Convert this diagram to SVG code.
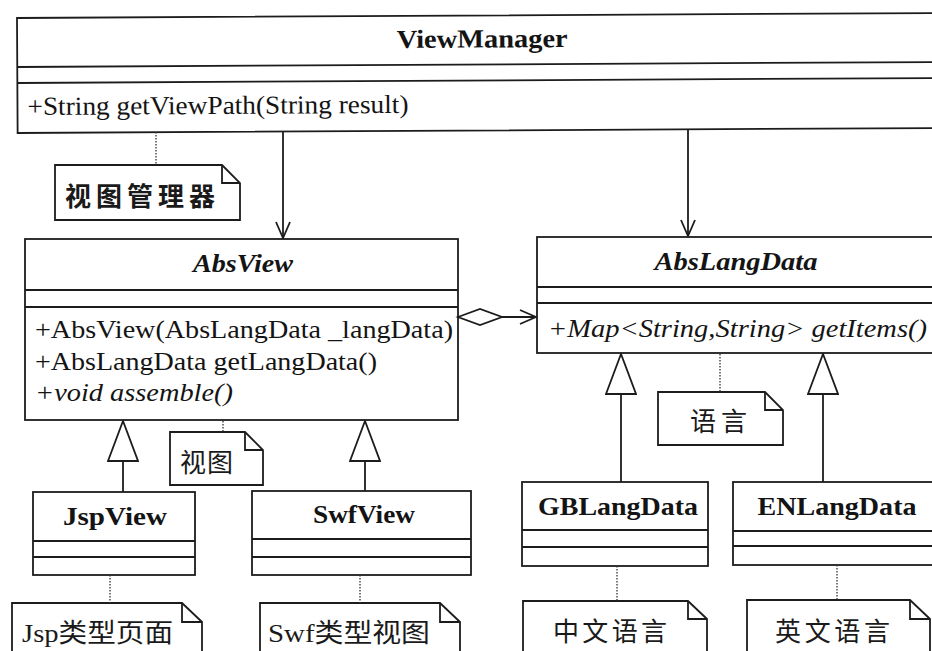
<svg xmlns="http://www.w3.org/2000/svg" width="932" height="651" viewBox="0 0 932 651">
<style>
.box{fill:#fff;stroke:#1c1c1c;stroke-width:1.8}
.ln{stroke:#1c1c1c;stroke-width:1.8;fill:none}
.dot{stroke:#333;stroke-width:1.3;stroke-dasharray:1.5 1.5;fill:none}
.t{font-family:"Liberation Serif","Noto Sans CJK SC",serif;font-size:26px;fill:#141414}
.b{font-weight:bold}
.i{font-style:italic}
.c{text-anchor:middle}
.n{font-family:"Liberation Serif","Noto Sans CJK SC",serif;font-size:26px;fill:#1a1a1a}
</style>
<defs>
<marker id="open" viewBox="0 0 18 16" refX="17" refY="8" markerWidth="18" markerHeight="16" markerUnits="userSpaceOnUse" orient="auto"><path d="M1,1 L17,8 L1,15" fill="none" stroke="#1c1c1c" stroke-width="1.8"/></marker>
<marker id="tri" viewBox="0 0 42 32" refX="41" refY="16" markerWidth="42" markerHeight="32" markerUnits="userSpaceOnUse" orient="auto"><path d="M1,1 L41,16 L1,31 Z" fill="#fff" stroke="#1c1c1c" stroke-width="1.8"/></marker>
</defs>
<rect width="932" height="651" fill="#fff"/>

<g id="ViewManager" transform="rotate(-0.31 17 18)">
<rect class="box" x="17" y="18" width="940" height="115"/>
<line class="ln" x1="17" y1="67" x2="957" y2="67"/>
<line class="ln" x1="17" y1="83" x2="957" y2="83"/>
<text class="t b c" x="482" y="50" textLength="171" lengthAdjust="spacingAndGlyphs">ViewManager</text>
<text class="t" x="27" y="115" textLength="381" lengthAdjust="spacingAndGlyphs">+String getViewPath(String result)</text>
</g>

<g id="AbsView">
<rect class="box" x="25" y="239" width="433" height="181"/>
<line class="ln" x1="25" y1="290" x2="458" y2="290"/>
<line class="ln" x1="25" y1="307" x2="458" y2="307"/>
<text class="t b i c" x="243" y="272" textLength="100" lengthAdjust="spacingAndGlyphs">AbsView</text>
<text class="t" x="35" y="338" textLength="418" lengthAdjust="spacingAndGlyphs">+AbsView(AbsLangData _langData)</text>
<text class="t" x="35" y="370" textLength="342" lengthAdjust="spacingAndGlyphs">+AbsLangData getLangData()</text>
<text class="t i" x="35" y="401" textLength="198" lengthAdjust="spacingAndGlyphs">+void assemble()</text>
</g>

<g id="AbsLangData">
<rect class="box" x="537" y="237" width="420" height="116"/>
<line class="ln" x1="537" y1="287" x2="957" y2="287"/>
<line class="ln" x1="537" y1="303" x2="957" y2="303"/>
<text class="t b i c" x="736" y="270" textLength="163" lengthAdjust="spacingAndGlyphs">AbsLangData</text>
<text class="t i" x="548" y="337" textLength="379" lengthAdjust="spacingAndGlyphs">+Map&lt;String,String&gt; getItems()</text>
</g>

<g id="JspView">
<rect class="box" x="33" y="492" width="162" height="83"/>
<line class="ln" x1="33" y1="541" x2="195" y2="541"/>
<line class="ln" x1="33" y1="557" x2="195" y2="557"/>
<text class="t b c" x="115" y="525" textLength="104" lengthAdjust="spacingAndGlyphs">JspView</text>
</g>

<g id="SwfView">
<rect class="box" x="252" y="491" width="219" height="84"/>
<line class="ln" x1="252" y1="539" x2="471" y2="539"/>
<line class="ln" x1="252" y1="557" x2="471" y2="557"/>
<text class="t b c" x="364" y="523" textLength="102" lengthAdjust="spacingAndGlyphs">SwfView</text>
</g>

<g id="GBLangData">
<rect class="box" x="522" y="482" width="186" height="84"/>
<line class="ln" x1="522" y1="530" x2="708" y2="530"/>
<line class="ln" x1="522" y1="547" x2="708" y2="547"/>
<text class="t b c" x="618" y="515" textLength="160" lengthAdjust="spacingAndGlyphs">GBLangData</text>
</g>

<g id="ENLangData">
<rect class="box" x="733" y="482" width="220" height="83"/>
<line class="ln" x1="733" y1="531" x2="953" y2="531"/>
<line class="ln" x1="733" y1="546" x2="953" y2="546"/>
<text class="t b c" x="837" y="515" textLength="159" lengthAdjust="spacingAndGlyphs">ENLangData</text>
</g>

<g id="note-viewmanager">
<path class="box" d="M55,165 H222 L240,183 V220 H55 Z"/>
<path class="ln" d="M222,165 V183 H240"/>
<text class="n b" x="65" y="206" textLength="150">视图管理器</text>
</g>

<g id="note-view">
<path class="box" d="M170,432 H245 L263,450 V485 H170 Z"/>
<path class="ln" d="M245,432 V450 H263"/>
<text class="n" x="180" y="472" textLength="53">视图</text>
</g>

<g id="note-lang">
<path class="box" d="M658,392 H765 L783,410 V445 H658 Z"/>
<path class="ln" d="M765,392 V410 H783"/>
<text class="n" x="690" y="431" textLength="57">语言</text>
</g>

<g id="note-jsp">
<path class="box" d="M12,603 H182 L202,622 V670 H12 Z"/>
<path class="ln" d="M182,603 V622 H202"/>
<text class="n" x="22" y="642" textLength="151" lengthAdjust="spacingAndGlyphs">Jsp类型页面</text>
</g>

<g id="note-swf">
<path class="box" d="M260,603 H440 L460,622 V670 H260 Z"/>
<path class="ln" d="M440,603 V622 H460"/>
<text class="n" x="268" y="642" textLength="162" lengthAdjust="spacingAndGlyphs">Swf类型视图</text>
</g>

<g id="note-gb">
<path class="box" d="M523,601 H688 L707,619 V670 H523 Z"/>
<path class="ln" d="M688,601 V619 H707"/>
<text class="n" x="553" y="641" textLength="114">中文语言</text>
</g>

<g id="note-en">
<path class="box" d="M747,600 H910 L930,619 V670 H747 Z"/>
<path class="ln" d="M910,600 V619 H930"/>
<text class="n" x="775" y="641" textLength="115">英文语言</text>
</g>

<g id="connectors">
<line class="ln" x1="283" y1="132" x2="283" y2="238" marker-end="url(#open)"/>
<line class="ln" x1="688" y1="130" x2="688" y2="236" marker-end="url(#open)"/>
<polygon class="box" points="458,317 480,309 502,317 480,325"/>
<line class="ln" x1="502" y1="317" x2="536" y2="317" marker-end="url(#open)"/>
<line class="ln" x1="123" y1="492" x2="123" y2="421" marker-end="url(#tri)"/>
<line class="ln" x1="365" y1="491" x2="365" y2="421" marker-end="url(#tri)"/>
<line class="ln" x1="621" y1="482" x2="621" y2="354" marker-end="url(#tri)"/>
<line class="ln" x1="823" y1="482" x2="823" y2="354" marker-end="url(#tri)"/>
<line class="dot" x1="156" y1="132" x2="156" y2="165"/>
<line class="dot" x1="223" y1="421" x2="223" y2="432"/>
<line class="dot" x1="720" y1="354" x2="720" y2="392"/>
<line class="dot" x1="110" y1="575" x2="110" y2="603"/>
<line class="dot" x1="360" y1="575" x2="360" y2="603"/>
<line class="dot" x1="617" y1="566" x2="617" y2="601"/>
<line class="dot" x1="837" y1="565" x2="837" y2="600"/>
</g>
</svg>
